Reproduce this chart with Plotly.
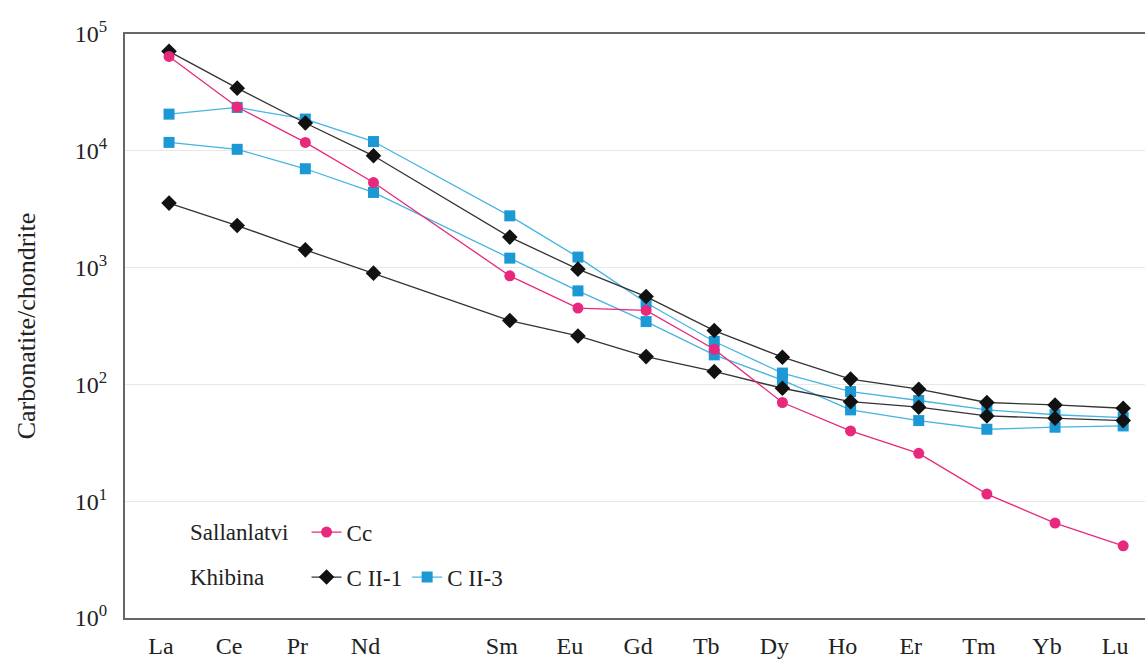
import plotly.graph_objects as go

# REE order (Pm left as a gap)
ree_order = ["La", "Ce", "Pr", "Nd", "Pm", "Sm", "Eu", "Gd", "Tb", "Dy", "Ho", "Er", "Tm", "Yb", "Lu"]
elements = ["La", "Ce", "Pr", "Nd", "Sm", "Eu", "Gd", "Tb", "Dy", "Ho", "Er", "Tm", "Yb", "Lu"]

# Sallanlatvi carbonatite (Cc)
cc = [64300, 23700, 11800, 5350, 850, 450, 430, 200, 70, 40, 25.7, 11.5, 6.5, 4.15]

# Khibina C II-1 (two samples)
c2_1_a = [71000, 34400, 17300, 9060, 1824, 970, 565, 289, 171, 111, 91, 70, 66.7, 62.5]
c2_1_b = [3565, 2290, 1419, 896, 352, 260, 173, 129, 92.7, 71.2, 63.8, 53.7, 51.3, 49]

# Khibina C II-3 (two samples)
c2_3_a = [20600, 23500, 18700, 12000, 2775, 1230, 500, 233, 125, 86.8, 72.8, 60.5, 55, 52]
c2_3_b = [11800, 10300, 7020, 4400, 1205, 632, 345, 179, 109, 60.5, 49, 41.3, 43, 44.1]

y_tick_vals = [1, 10, 100, 1000, 10000, 100000]
y_tick_text = ["10<sup>%d</sup>" % i for i in range(6)]

x = [ree_order.index(e) + 1 for e in elements]

PINK = "#E8287C"
CYAN_M = "#1C98D4"
CYAN_L = "#45B4E2"
BLACK = "#111111"
FONT = "Liberation Serif"
TXT = "#222222"

fig = go.Figure()

for i, s in enumerate([c2_3_a, c2_3_b]):
    fig.add_trace(go.Scatter(
        x=x, y=s, mode="lines+markers", name="C II-3",
        line=dict(color=CYAN_L, width=1.3),
        marker=dict(symbol="square", size=11, color=CYAN_M),
        showlegend=(i == 0), legend="legend2", legendrank=2,
    ))

for i, s in enumerate([c2_1_a, c2_1_b]):
    fig.add_trace(go.Scatter(
        x=x, y=s, mode="lines+markers", name="C II-1",
        line=dict(color="#333333", width=1.3),
        marker=dict(symbol="diamond", size=12, color=BLACK),
        showlegend=(i == 0), legend="legend2", legendrank=1,
    ))

fig.add_trace(go.Scatter(
    x=x, y=cc, mode="lines+markers", name="Cc",
    line=dict(color=PINK, width=1.3),
    marker=dict(symbol="circle", size=11, color=PINK),
    showlegend=True, legend="legend",
))

fig.update_layout(
    width=1145, height=664,
    margin=dict(l=125, r=0, t=34, b=46),
    paper_bgcolor="white", plot_bgcolor="white",
    font=dict(family=FONT, size=23, color=TXT),
    xaxis=dict(
        range=[0.354, 15.32],
        tickvals=x, ticktext=elements,
        showgrid=False, zeroline=False,
        showline=True, linecolor="#666666", linewidth=2, mirror=True,
        ticks="", ticklabelshift=-8, ticklabelstandoff=5,
        tickfont=dict(family=FONT, size=24, color=TXT),
    ),
    yaxis=dict(
        type="log", range=[0, 5],
        tickvals=y_tick_vals, ticktext=y_tick_text,
        showgrid=True, gridcolor="#e8e8e8", gridwidth=1,
        zeroline=False,
        showline=True, linecolor="#666666", linewidth=2, mirror=False,
        ticks="", ticklabelstandoff=11,
        tickfont=dict(family=FONT, size=24, color=TXT),
        title=dict(text="Carbonatite/chondrite", standoff=32,
                   font=dict(family=FONT, size=26, color=TXT)),
    ),
    legend=dict(
        orientation="h", x=0.178, y=0.147, xanchor="left", yanchor="middle",
        bgcolor="rgba(0,0,0,0)", font=dict(family=FONT, size=23, color=TXT),
    ),
    legend2=dict(
        orientation="h", x=0.178, y=0.070, xanchor="left", yanchor="middle",
        bgcolor="rgba(0,0,0,0)", font=dict(family=FONT, size=23, color=TXT),
        traceorder="normal",
    ),
    annotations=[
        dict(text="Sallanlatvi", xref="paper", yref="paper", x=0.0618, y=0.147,
             xanchor="left", yanchor="middle", showarrow=False,
             font=dict(family=FONT, size=23, color=TXT)),
        dict(text="Khibina", xref="paper", yref="paper", x=0.0618, y=0.070,
             xanchor="left", yanchor="middle", showarrow=False,
             font=dict(family=FONT, size=23, color=TXT)),
    ],
)

fig.write_html(
    "out.html",
    config={"displayModeBar": False},
    post_script="document.body.style.margin='0';document.body.style.overflow='hidden';",
)
